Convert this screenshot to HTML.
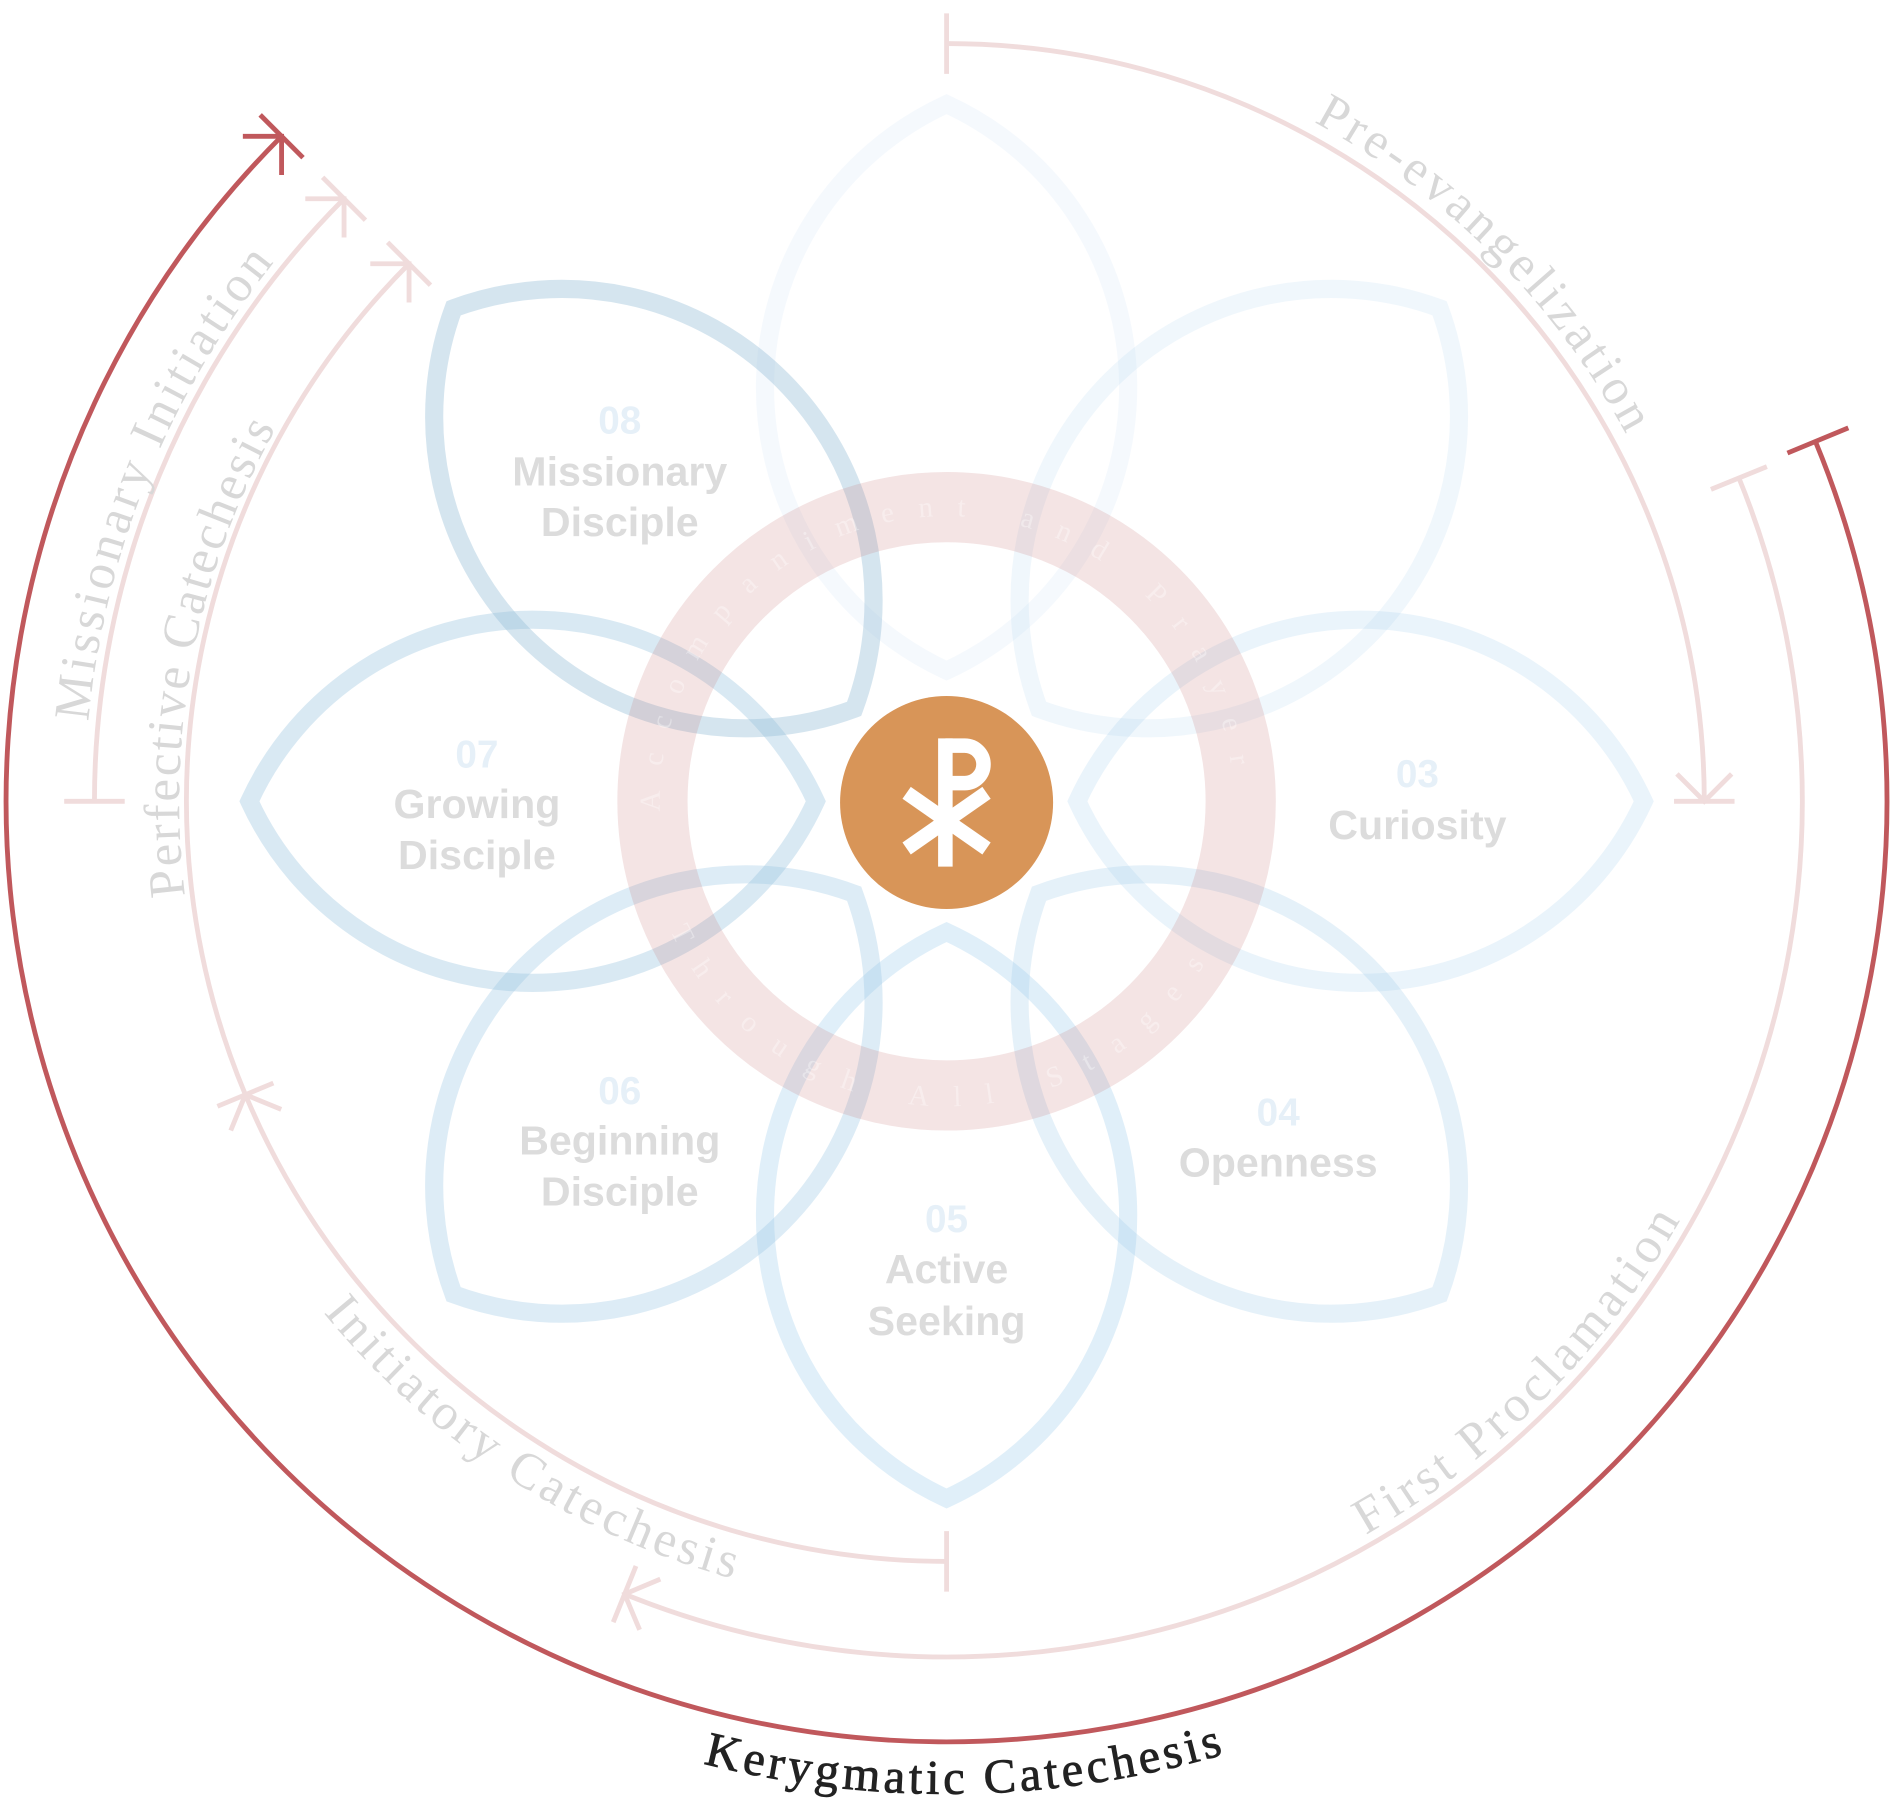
<!DOCTYPE html>
<html><head><meta charset="utf-8"><style>
html,body{margin:0;padding:0;background:#fff;}
svg{display:block;}
.lbl{font-family:"Liberation Sans",sans-serif;font-weight:bold;font-size:34px;fill:#dcdcdc;text-anchor:middle;}
.num{font-family:"Liberation Sans",sans-serif;font-weight:bold;font-size:32px;fill:#e6f0f8;text-anchor:middle;}
.arcl{font-family:"Liberation Serif",serif;font-size:42px;fill:#d8d8d8;}
</style></head><body>
<svg width="1898" height="1815" viewBox="0 0 1568 1499.5" xmlns="http://www.w3.org/2000/svg">
<defs>
<path id="vp" d="M108 0 A257.5 257.5 0 0 1 576 0 A257.5 257.5 0 0 1 108 0 Z"/>
<path id="tKer" d="M79.1 1084.3 A820 820 0 0 0 1499.2 1059.5"/>
<path id="tPre" d="M671.2 33.7 A638 638 0 0 1 1410.3 772.8"/>
<path id="tFirst" d="M660.8 1349.4 A698 698 0 0 0 1469.4 540.8"/>
<path id="tInit" d="M116.4 685.2 A666 666 0 0 0 1031.5 1279.5"/>
<path id="tMis" d="M184.9 1049.8 A712 712 0 0 1 621.8 -31.8"/>
<path id="tPerf" d="M325.9 1102.4 A634 634 0 0 1 524.1 82.8"/>
<path id="tRingTop" d="M545.1 670.3 A237 237 0 1 1 1018.9 670.3"/>
<path id="tRingBot" d="M553.6 768.5 A252 252 0 0 0 1010.4 768.5"/>
</defs>

<g transform="translate(782 662)" fill="none" stroke-width="15" stroke-linejoin="miter">
<use href="#vp" transform="rotate(-90)" stroke="rgb(170,205,235)" stroke-opacity="0.12"/>
<use href="#vp" transform="rotate(-45)" stroke="rgb(165,205,235)" stroke-opacity="0.17"/>
<use href="#vp" transform="rotate(0)" stroke="rgb(160,205,235)" stroke-opacity="0.22"/>
<use href="#vp" transform="rotate(45)" stroke="rgb(160,205,235)" stroke-opacity="0.28"/>
<use href="#vp" transform="rotate(90)" stroke="rgb(160,205,235)" stroke-opacity="0.32"/>
<use href="#vp" transform="rotate(135)" stroke="rgb(155,200,228)" stroke-opacity="0.34"/>
<use href="#vp" transform="rotate(180)" stroke="rgb(150,195,222)" stroke-opacity="0.36"/>
<use href="#vp" transform="rotate(225)" stroke="rgb(150,190,215)" stroke-opacity="0.4"/>
</g>

<circle cx="782" cy="662" r="243" fill="none" stroke="rgb(200,120,120)" stroke-opacity="0.2" stroke-width="58"/>
<text font-family="Liberation Serif,serif" font-size="24" fill="#fff" fill-opacity="0.35"><textPath href="#tRingTop" textLength="720" lengthAdjust="spacing">Accompaniment and Prayer</textPath></text>
<text font-family="Liberation Serif,serif" font-size="24" fill="#fff" fill-opacity="0.35"><textPath href="#tRingBot" textLength="540" lengthAdjust="spacing">Through All Stages</textPath></text>

<circle cx="782" cy="663" r="88" fill="#d89558"/>
<g stroke="#fff" stroke-width="12" fill="none">
<line x1="781" y1="610" x2="781" y2="716"/>
<path d="M781 616 H797 A15.5 15.5 0 0 1 797 647 H781"/>
<line x1="749" y1="655" x2="815" y2="701"/>
<line x1="815" y1="655" x2="749" y2="701"/>
</g>

<text class="num" x="512" y="358">08</text>
<text class="lbl" x="512" y="401">Missionary</text>
<text class="lbl" x="512" y="443">Disciple</text>
<text class="num" x="394" y="634">07</text>
<text class="lbl" x="394" y="676">Growing</text>
<text class="lbl" x="394" y="718">Disciple</text>
<text class="num" x="512" y="912">06</text>
<text class="lbl" x="512" y="954">Beginning</text>
<text class="lbl" x="512" y="996">Disciple</text>
<text class="num" x="782" y="1018">05</text>
<text class="lbl" x="782" y="1060">Active</text>
<text class="lbl" x="782" y="1103">Seeking</text>
<text class="num" x="1056" y="930">04</text>
<text class="lbl" x="1056" y="972">Openness</text>
<text class="num" x="1171" y="650">03</text>
<text class="lbl" x="1171" y="693">Curiosity</text>

<g fill="none" stroke="#f0dcdc" stroke-width="4">
<path d="M782 36 A626 626 0 0 1 1408 662"/>
<line x1="782" y1="11" x2="782" y2="61"/>
<polyline points="1385.4,639.4 1408,662 1430.6,639.4"/>
<line x1="1383" y1="662" x2="1433" y2="662"/>

<path d="M1436.6 394.9 A707 707 0 0 1 516 1317"/>
<line x1="1413.5" y1="404.3" x2="1459.7" y2="385.5"/>
<polyline points="528.4,1346.5 516,1317 545.5,1304.6"/>
<line x1="506.6" y1="1340.2" x2="525.4" y2="1293.8"/>

<path d="M782 1290 A628 628 0 0 1 202.7 904.4"/>
<line x1="782" y1="1265" x2="782" y2="1315"/>
<polyline points="190.6,934 202.7,904.4 232.3,916.5"/>

<path d="M202.7 904.4 A628 628 0 0 1 337.9 217.9"/>
<line x1="179.6" y1="914" x2="225.8" y2="894.8"/>
<polyline points="305.9,217.9 337.9,217.9 337.9,249.9"/>
<line x1="320.2" y1="200.2" x2="355.6" y2="235.6"/>

<path d="M78 662 A704 704 0 0 1 284.2 164.2"/>
<line x1="53" y1="662" x2="103" y2="662"/>
<polyline points="252.2,164.2 284.2,164.2 284.2,196.2"/>
<line x1="266.5" y1="146.5" x2="301.9" y2="181.9"/>
</g>

<g fill="none" stroke="#c0585c" stroke-width="4">
<path d="M1499.8 364.7 A777 777 0 1 1 232.6 112.6"/>
<line x1="1476.7" y1="374.3" x2="1527" y2="353.5"/>
<polyline points="200.6,112.6 232.6,112.6 232.6,144.6"/>
<line x1="214.9" y1="94.9" x2="250.3" y2="130.3"/>
</g>

<text class="arcl"><textPath href="#tPre" startOffset="50%" text-anchor="middle" textLength="370" lengthAdjust="spacing">Pre-evangelization</textPath></text>
<text class="arcl"><textPath href="#tFirst" startOffset="50%" text-anchor="middle" textLength="372" lengthAdjust="spacing">First Proclamation</textPath></text>
<text class="arcl"><textPath href="#tInit" startOffset="50%" text-anchor="middle" textLength="410" lengthAdjust="spacing">Initiatory Catechesis</textPath></text>
<text class="arcl"><textPath href="#tMis" startOffset="50%" text-anchor="middle" textLength="415" lengthAdjust="spacing">Missionary Initiation</textPath></text>
<text class="arcl"><textPath href="#tPerf" startOffset="50%" text-anchor="middle" textLength="400" lengthAdjust="spacing">Perfective Catechesis</textPath></text>
<text font-family="Liberation Serif,serif" font-size="40" fill="#222" stroke="#222" stroke-width="0.7"><textPath href="#tKer" startOffset="50%" text-anchor="middle" textLength="435" lengthAdjust="spacing">Kerygmatic Catechesis</textPath></text>
</svg>
</body></html>
